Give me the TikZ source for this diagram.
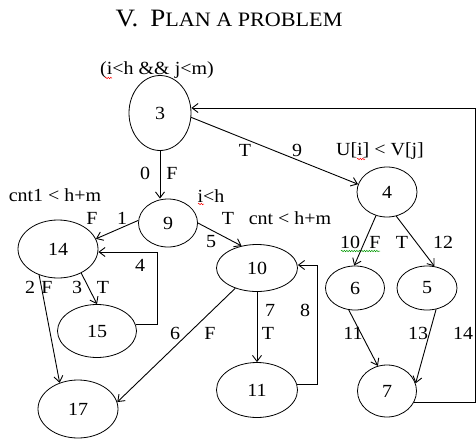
\documentclass[tikz,border=0pt]{standalone}
\usepackage{fontspec}
\setmainfont[FakeStretch=1.08]{Liberation Serif}
\usetikzlibrary{shapes.geometric,arrows.meta,decorations.pathmorphing}
\begin{document}
\begin{tikzpicture}[x=1pt,y=-1pt,
  every node/.style={font=\fontsize{18.5}{22}\selectfont, inner sep=0pt},
  ell/.style={draw, ellipse, line width=0.8pt},
  arr/.style={draw, line width=0.9pt, -{Straight Barb[length=6pt,width=9pt,line width=0.9pt]}},
  wavyred/.style={draw=red, line width=0.5pt, decorate, decoration={snake, amplitude=0.7pt, segment length=2.5pt}},
  wavygreen/.style={draw=green!60!black, line width=0.5pt, decorate, decoration={snake, amplitude=0.7pt, segment length=2.5pt}}]
\useasboundingbox (0,0) rectangle (476,439);
% title
\node (title) at (229,19) {\fontsize{25}{28}\selectfont V.\hspace{12pt}P\fontsize{20.5}{24}\selectfont LAN A PROBLEM};
% nodes
\node[ell, minimum width=62pt, minimum height=75pt] (n3) at (160,113) {3};
\node[ell, minimum width=60pt, minimum height=50pt] (n4) at (387,192) {4};
\node[ell, minimum width=59pt, minimum height=48pt] (n9) at (168,223) {9};
\node[ell, minimum width=80pt, minimum height=58pt] (n14) at (58,249) {14};
\node[ell, minimum width=79pt, minimum height=53pt] (n15) at (97,331) {15};
\node[ell, minimum width=80pt, minimum height=58pt] (n17) at (78,409) {17};
\node[ell, minimum width=81pt, minimum height=47pt] (n10) at (257,268) {10};
\node[ell, minimum width=81pt, minimum height=55pt] (n11) at (257,390) {11};
\node[ell, minimum width=59pt, minimum height=44pt] (n6) at (355,288) {6};
\node[ell, minimum width=60pt, minimum height=44pt] (n5) at (427,288) {5};
\node[ell, minimum width=59pt, minimum height=52pt] (n7) at (387,391) {7};
% condition labels
\node (c3) at (157,70) {(i<h \&\& j<m)};
\node (c4) at (380,151) {U[i] < V[j]};
\node (c9) at (211,196) {i<h};
\node (c14) at (55,195) {cnt1 < h+m};
\node (c10) at (290,218) {cnt < h+m};
% spell-check underlines
\draw[wavyred] (105,78) -- (112,78);
\draw[wavyred] (198,204) -- (204,204);
\draw[wavyred] (357,159) -- (365,159);
\draw[wavygreen] (341,251) -- (380,251);
% helper coordinates
\coordinate (k4) at (157,252);
\coordinate (k8) at (317,265);
\coordinate (k14) at (475,108);
% edges
\draw[arr] (n3.south) -- (n9.north -| n3.south);
\draw[arr] (n3.-8) -- (n4.165);
\draw[arr] (n9.175) -- (n14.15);
\draw[arr] (n9.east) -- (n10.125);
\draw[arr] (n14.-46) -- (n15.north);
\draw[arr] (n15.10) -| (k4) -- (k4 -| n14.east);
\draw[arr] (n14.-126) -- (n17.125);
\draw[arr] (n10.south) -- (n11.north);
\draw[arr] (n11.8) -| (k8) -- (k8 -| n10.east);
\draw[arr] (n10.-137) -- (n17.10);
\draw[arr] (n4.-115) -- (n6.92);
\draw[arr] (n4.-69) -- (n5.71);
\draw[arr] (n6.-106) -- (n7.110);
\draw[arr] (n5.-67) -- (n7.15);
\draw[arr] (n7.-22) -| (k14) -- (k14 -| n3.east);
% edge labels
\node (l9T) at (245,150) {T};
\node (l9) at (297,150) {9};
\node (l0) at (145,173) {0};
\node (l0F) at (172,173) {F};
\node (l1F) at (92,218) {F};
\node (l1) at (122,218) {1};
\node (l5T) at (228,218) {T};
\node (l5) at (211,242) {5};
\node (l2) at (30,287) {2};
\node (l2F) at (47,287) {F};
\node (l3) at (77,287) {3};
\node (l3T) at (103,287) {T};
\node (l4) at (140,265) {4};
\node (l7) at (270,310) {7};
\node (l7T) at (268,333) {T};
\node (l8) at (305,310) {8};
\node (l6) at (175,333) {6};
\node (l6F) at (210,333) {F};
\node (l10) at (350,242) {10};
\node (l10F) at (375,242) {F};
\node (l12T) at (402,242) {T};
\node (l12) at (443,242) {12};
\node (l11) at (353,333) {11};
\node (l13) at (418,333) {13};
\node (l14) at (463,333) {14};
\end{tikzpicture}
\end{document}
